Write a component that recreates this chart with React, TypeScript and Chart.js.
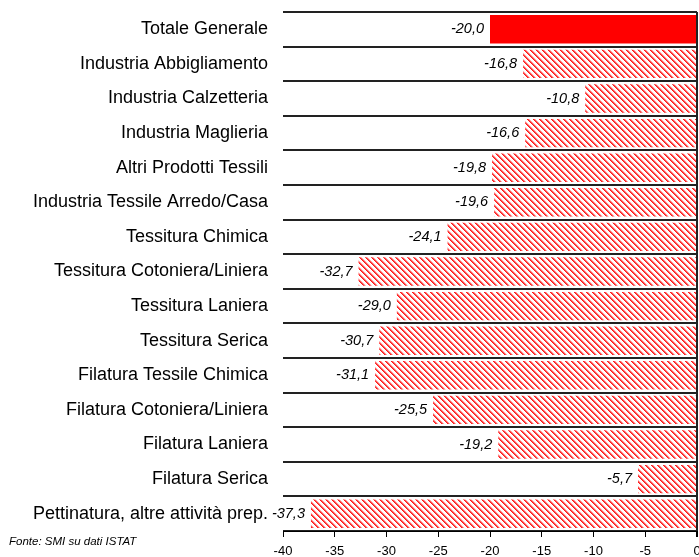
import React, { useEffect, useRef } from "react";
import { Chart, registerables } from "chart.js";

Chart.register(...registerables);

const categories = [
  "Totale Generale",
  "Industria Abbigliamento",
  "Industria Calzetteria",
  "Industria Maglieria",
  "Altri Prodotti Tessili",
  "Industria Tessile Arredo/Casa",
  "Tessitura Chimica",
  "Tessitura Cotoniera/Liniera",
  "Tessitura Laniera",
  "Tessitura Serica",
  "Filatura Tessile Chimica",
  "Filatura Cotoniera/Liniera",
  "Filatura Laniera",
  "Filatura Serica",
  "Pettinatura, altre attività prep.",
];

const values = [-20.0, -16.8, -10.8, -16.6, -19.8, -19.6, -24.1, -32.7, -29.0, -30.7, -31.1, -25.5, -19.2, -5.7, -37.3];

const xTicks = [-40, -35, -30, -25, -20, -15, -10, -5, 0];

const sourceNote = "Fonte: SMI su dati ISTAT";

const FONT = "'Liberation Sans', Arial, sans-serif";

function makePattern(): CanvasPattern | string {
  const n = 6;
  const c = document.createElement("canvas");
  c.width = n;
  c.height = n;
  const g = c.getContext("2d");
  if (!g) return "#ff0000";
  g.fillStyle = "#ffffff";
  g.fillRect(0, 0, n, n);
  for (let y = 0; y < n; y++) {
    g.fillStyle = "#ff1a1a";
    g.fillRect(y % n, y, 1, 1);
    g.fillStyle = "#ff5050";
    g.fillRect((y + 1) % n, y, 1, 1);
    g.fillStyle = "#ffb0b0";
    g.fillRect((y + 2) % n, y, 1, 1);
  }
  const p = g.createPattern(c, "repeat");
  return p || "#ff0000";
}

export default function App() {
  const ref = useRef<HTMLCanvasElement | null>(null);

  useEffect(() => {
    if (!ref.current) return;
    const pattern = makePattern();
    const colors = values.map((_, i) => (i === 0 ? "#ff0000" : pattern));

    const labelPlugin = {
      id: "valueLabels",
      afterDatasetsDraw(chart: any) {
        const ctx = chart.ctx;
        const meta = chart.getDatasetMeta(0);
        ctx.save();
        ctx.font = `italic 14.5px ${FONT}`;
        ctx.fillStyle = "#000";
        ctx.textAlign = "right";
        ctx.textBaseline = "middle";
        meta.data.forEach((bar: any, i: number) => {
          const txt = values[i].toFixed(1).replace(".", ",");
          ctx.fillText(txt, bar.x - 6, bar.y);
        });
        ctx.font = `italic 11.5px ${FONT}`;
        ctx.textAlign = "left";
        ctx.fillText(sourceNote, 9, 542);
        ctx.restore();
      },
    };

    const chart = new Chart(ref.current, {
      type: "bar",
      data: {
        labels: categories,
        datasets: [
          {
            data: values,
            backgroundColor: colors as any,
            borderWidth: 0,
            categoryPercentage: 1,
            barPercentage: 0.82,
          },
        ],
      },
      options: {
        indexAxis: "y",
        responsive: false,
        animation: false,
        layout: { padding: { top: 12, right: 2, left: 0, bottom: 0 } },
        plugins: {
          legend: { display: false },
          tooltip: { enabled: false },
        },
        scales: {
          x: {
            type: "linear",
            min: -40,
            max: 0,
            afterBuildTicks: (scale: any) => {
              scale.ticks = xTicks.map((v) => ({ value: v }));
            },
            afterFit: (scale: any) => {
              scale.height = 26;
              scale.paddingLeft = 0;
              scale.paddingRight = 0;
            },
            border: { display: true, color: "#000", width: 1 },
            grid: {
              color: (ctx: any) => (ctx.tick && ctx.tick.value === 0 ? "#222" : "rgba(0,0,0,0)"),
              lineWidth: (ctx: any) => (ctx.tick && ctx.tick.value === 0 ? 2 : 1),
              tickColor: "#000",
              tickLength: 6,
              drawOnChartArea: true,
            },
            ticks: {
              color: "#000",
              font: { family: FONT, size: 13 },
              padding: 7,
              maxRotation: 0,
              autoSkip: false,
            },
          },
          y: {
            type: "category",
            position: "left",
            afterFit: (scale: any) => {
              scale.width = 283;
              scale.paddingTop = 0;
              scale.paddingBottom = 0;
            },
            border: { display: false },
            grid: {
              offset: true,
              color: "#222",
              lineWidth: 2,
              drawTicks: false,
            },
            ticks: {
              color: "#000",
              font: { family: FONT, size: 18 },
              padding: 15,
              autoSkip: false,
            },
          },
        },
      },
      plugins: [labelPlugin],
    });
    return () => chart.destroy();
  }, []);

  return (
    <div style={{ position: "absolute", left: 0, top: 0, width: 699, height: 557, background: "#fff" }}>
      <canvas ref={ref} width={699} height={557} style={{ display: "block" }} />
    </div>
  );
}
